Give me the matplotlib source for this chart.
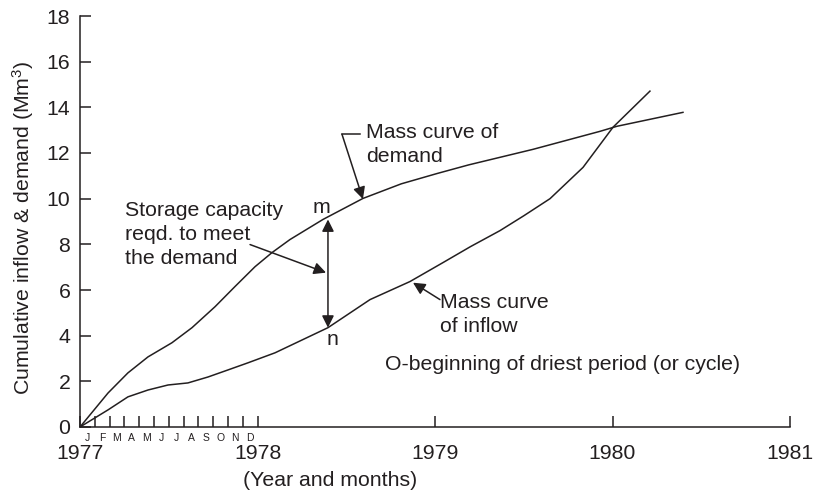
import numpy as np
import matplotlib.pyplot as plt

plt.rcParams['font.family'] = ['Liberation Sans', 'DejaVu Sans']
plt.rcParams['mathtext.fontset'] = 'custom'
plt.rcParams['mathtext.rm'] = 'Liberation Sans'
plt.rcParams['mathtext.it'] = 'Liberation Sans'

INK = '#231f20'
FS = 15.3

# mass curve of demand (year, Mm3)
demand_t = [1977.000, 1977.158, 1977.270, 1977.383, 1977.518, 1977.631, 1977.761,
            1977.873, 1977.986, 1978.082, 1978.183, 1978.369, 1978.594, 1978.810,
            1979.011, 1979.190, 1979.552, 1979.930, 1980.025, 1980.397]
demand_v = [0.00, 1.49, 2.37, 3.07, 3.69, 4.35, 5.27,
            6.15, 7.02, 7.64, 8.21, 9.09, 10.01, 10.65,
            11.10, 11.48, 12.16, 12.95, 13.17, 13.78]

# mass curve of inflow (year, Mm3)
inflow_t = [1977.000, 1977.158, 1977.270, 1977.383, 1977.496, 1977.608, 1977.721,
            1977.834, 1977.946, 1978.099, 1978.397, 1978.634, 1978.859, 1979.045,
            1979.200, 1979.366, 1979.500, 1979.648, 1979.834, 1980.003, 1980.211]
inflow_v = [0.00, 0.75, 1.32, 1.62, 1.84, 1.93, 2.19,
            2.50, 2.81, 3.25, 4.35, 5.58, 6.37, 7.20,
            7.90, 8.60, 9.25, 10.00, 11.37, 13.13, 14.71]

years = [1977, 1978, 1979, 1980, 1981]
months = ['J', 'F', 'M', 'A', 'M', 'J', 'J', 'A', 'S', 'O', 'N', 'D']
yticks = list(range(0, 19, 2))

# storage between m (demand) and n (inflow)
t_mn = 1978.397
m_val = 9.09
n_val = 4.35

fig = plt.figure(figsize=(8.14, 4.97), dpi=100)
ax = fig.add_axes([80/814, 70/497, 710/814, 411/497])

ax.plot(demand_t, demand_v, color=INK, lw=1.1, solid_joinstyle='round')
ax.plot(inflow_t, inflow_v, color=INK, lw=1.1, solid_joinstyle='round')

ax.set_xlim(1977, 1981)
ax.set_ylim(0, 18)
for s in ['top', 'right']:
    ax.spines[s].set_visible(False)
for s in ['left', 'bottom']:
    ax.spines[s].set_linewidth(1.1)
    ax.spines[s].set_color(INK)

ax.set_xticks(years)
ax.set_xticklabels([str(y) for y in years])
ax.set_yticks(yticks)
ax.set_xticks([1977 + k/12 for k in range(1, 12)], minor=True)
ax.tick_params(axis='both', which='major', direction='in', length=8, width=1.1,
               colors=INK, labelsize=FS)
ax.tick_params(axis='x', which='major', pad=12)
ax.tick_params(axis='y', which='major', pad=7)
ax.tick_params(axis='x', which='minor', direction='in', length=8, width=1.1, colors=INK)

# month letters between the month ticks
for k, m in enumerate(months):
    ax.text(1977 + (k + 0.5)/12, -0.014, m, transform=ax.get_xaxis_transform(),
            ha='center', va='top', fontsize=7.5, color=INK)

ax.text(1978.408, -0.13, '(Year and months)', transform=ax.get_xaxis_transform(),
        ha='center', va='center', fontsize=FS, color=INK)
ax.set_ylabel(r'Cumulative inflow & demand (Mm$^{3}$)', fontsize=FS, color=INK)
ax.yaxis.set_label_coords(-0.062, 0.485)

arrow = dict(arrowstyle='-|>', color=INK, lw=1.1, mutation_scale=18,
             shrinkA=0, shrinkB=0)

# storage arrow m-n
ax.annotate('', xy=(t_mn, n_val), xytext=(t_mn, m_val),
            arrowprops=dict(arrowstyle='<|-|>', color=INK, lw=1.1,
                            mutation_scale=18, shrinkA=0, shrinkB=0))
ax.text(1978.363, 9.62, 'm', fontsize=FS, color=INK, ha='center', va='center')
ax.text(1978.425, 3.82, 'n', fontsize=FS, color=INK, ha='center', va='center')

ax.text(1977.254, 8.45, 'Storage capacity\nreqd. to meet\nthe demand',
        fontsize=FS, color=INK, ha='left', va='center', linespacing=1.33)
ax.annotate('', xy=(1978.386, 6.76), xytext=(1977.958, 7.99), arrowprops=arrow)

# demand label with bent leader
ax.text(1978.611, 12.38, 'Mass curve of\ndemand', fontsize=FS, color=INK,
        ha='left', va='center', linespacing=1.33)
ax.plot([1978.476, 1978.577], [12.82, 12.82], color=INK, lw=1.1)
ax.annotate('', xy=(1978.594, 9.98), xytext=(1978.476, 12.82), arrowprops=arrow)

# inflow label
ax.text(1979.028, 4.94, 'Mass curve\nof inflow', fontsize=FS, color=INK,
        ha='left', va='center', linespacing=1.33)
ax.annotate('', xy=(1978.876, 6.32), xytext=(1979.028, 5.58), arrowprops=arrow)

ax.text(1978.718, 2.72, 'O-beginning of driest period (or cycle)', fontsize=FS,
        color=INK, ha='left', va='center')

fig.savefig('out.png', dpi=100)
